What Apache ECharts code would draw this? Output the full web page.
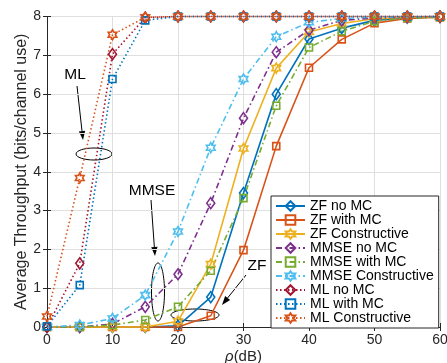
<!DOCTYPE html>
<html>
<head>
<meta charset="utf-8">
<script src="https://cdn.jsdelivr.net/npm/echarts@6/dist/echarts.min.js"></script>
<style>
  html, body { margin: 0; padding: 0; background: #fff; }
  #chart { width: 447px; height: 363px; }
</style>
</head>
<body>
<div id="chart"></div>
<script>
const snr = [0, 5, 10, 15, 20, 25, 30, 35, 40, 45, 50, 55, 60]
const zfNoMC = [0, 0, 0, 0, 0.03, 0.77, 3.45, 6.0, 7.42, 7.7, 7.9, 7.97, 7.99]
const zfWithMC = [0, 0, 0, 0, 0, 0.29, 1.98, 4.66, 6.68, 7.41, 7.83, 7.95, 7.98]
const zfConstructive = [0, 0, 0, 0, 0.15, 1.62, 4.6, 6.67, 7.6, 7.82, 7.94, 7.98, 7.99]
const mmseNoMC = [0, 0, 0.08, 0.52, 1.36, 3.19, 5.38, 7.08, 7.65, 7.9, 7.96, 7.98, 7.99]
const mmseWithMC = [0, 0, 0.05, 0.18, 0.52, 1.45, 3.32, 5.7, 7.2, 7.62, 7.88, 7.96, 7.98]
const mmseConstructive = [0, 0.05, 0.22, 0.82, 2.46, 4.62, 6.39, 7.48, 7.85, 7.95, 7.98, 7.99, 8]
const mlNoMC = [0, 1.64, 7.03, 7.97, 8, 8, 8, 8, 8, 8, 8, 8, 8]
const mlWithMC = [0.02, 1.08, 6.39, 7.9, 8, 8, 8, 8, 8, 8, 8, 8, 8]
const mlConstructive = [0.27, 3.84, 7.53, 7.98, 8, 8, 8, 8, 8, 8, 8, 8, 8]

const FONT = 'Liberation Sans, Arial, Helvetica, sans-serif'
const AX = '#262626'
const hexagram = 'path://M0,-100L28.9,-50L86.6,-50L57.7,0L86.6,50L28.9,50L0,100L-28.9,50L-86.6,50L-57.7,0L-86.6,-50L-28.9,-50Z'
const dashDot = [6, 3, 1.5, 3]
const dotted = [1.5, 2.5]

const mk = (name, ys, color, lineType, symbol) => {
  let size = 8
  if (symbol === 'diamond') size = [8, 11]
  if (symbol === 'rect') size = 7
  if (symbol === 'hex') size = 10
  return {
    name: name,
    type: 'line',
    data: snr.map((x, i) => [x, ys[i]]),
    symbol: symbol === 'hex' ? hexagram : symbol,
    symbolSize: size,
    symbolKeepAspect: true,
    showAllSymbol: true,
    clip: false,
    lineStyle: { color: color, width: 1.6, type: lineType },
    itemStyle: { color: 'rgba(255,255,255,0)', borderColor: color, borderWidth: 1.6 },
    emphasis: { disabled: true },
    animation: false
  }
}

// arrow from (x1,y1) to tip (x2,y2), pixel positions of annotations
const arrow = (x1, y1, x2, y2) => {
  const a = Math.atan2(y2 - y1, x2 - x1)
  const L = 9, W = 3.2
  const bx = x2 - L * Math.cos(a), by = y2 - L * Math.sin(a)
  const px = -Math.sin(a) * W, py = Math.cos(a) * W
  return [
    { type: 'line', shape: { x1: x1, y1: y1, x2: bx, y2: by }, style: { stroke: '#000', lineWidth: 1 } },
    { type: 'polygon', shape: { points: [[x2, y2], [bx + px, by + py], [bx - px, by - py]] }, style: { fill: '#000' } }
  ]
}
const ell = (cx, cy, rx, ry) => ({ type: 'ellipse', shape: { cx: cx, cy: cy, rx: rx, ry: ry }, style: { fill: 'none', stroke: '#000', lineWidth: 1 } })
const txt = (x, y, s) => ({ type: 'text', x: x, y: y, style: { text: s, font: '15.5px ' + FONT, fill: '#000', align: 'center', verticalAlign: 'middle' } })

const myChart = echarts.init(document.getElementById('chart'), null, { renderer: 'canvas' })
const option = {
  animation: false,
  textStyle: { fontFamily: FONT },
  grid: { left: 47, right: 7, top: 16.5, bottom: 36, containLabel: false, outerBoundsMode: 'none' },
  xAxis: [{
    type: 'value', min: 0, max: 60, interval: 10,
    name: '{i|ρ}(dB)', nameLocation: 'middle', nameGap: 22, nameMoveOverlap: false,
    nameTextStyle: { color: AX, fontSize: 15, rich: { i: { fontStyle: 'italic', fontSize: 15, color: AX } } },
    axisLine: { lineStyle: { color: AX, width: 1 } },
    axisTick: { inside: true, length: 4, lineStyle: { color: AX } },
    axisLabel: { color: AX, fontSize: 14, margin: 6 },
    splitLine: { show: true, lineStyle: { color: '#dfdfdf', width: 1 } }
  }, {
    type: 'value', min: 0, max: 60, interval: 10, position: 'top',
    axisLine: { show: true, lineStyle: { color: AX, width: 1 } },
    axisTick: { inside: true, length: 4, lineStyle: { color: AX } },
    axisLabel: { show: false }, splitLine: { show: false }
  }],
  yAxis: [{
    type: 'value', min: 0, max: 8, interval: 1,
    name: 'Average Throughput (bits/channel use)', nameLocation: 'middle', nameGap: 17, nameMoveOverlap: false,
    nameTextStyle: { color: AX, fontSize: 16 },
    axisLine: { show: true, lineStyle: { color: AX, width: 1 } },
    axisTick: { show: true, inside: true, length: 4, lineStyle: { color: AX } },
    axisLabel: { color: AX, fontSize: 14, margin: 6 },
    splitLine: { show: true, lineStyle: { color: '#dfdfdf', width: 1 } }
  }, {
    type: 'value', min: 0, max: 8, interval: 1, position: 'right',
    axisLine: { show: true, lineStyle: { color: AX, width: 1 } },
    axisTick: { show: true, inside: true, length: 4, lineStyle: { color: AX } },
    axisLabel: { show: false }, splitLine: { show: false }
  }],
  legend: {
    orient: 'vertical', left: 271, top: 196,
    padding: [3, 5, 3, 4], itemGap: 0, itemWidth: 29, itemHeight: 12,
    backgroundColor: '#fff', borderColor: AX, borderWidth: 1,
    textStyle: { fontSize: 14, color: '#000', lineHeight: 14, height: 14 }
  },
  series: [
    mk('ZF no MC', zfNoMC, '#0072BD', 'solid', 'diamond'),
    mk('ZF with MC', zfWithMC, '#D95319', 'solid', 'rect'),
    mk('ZF Constructive', zfConstructive, '#EDB120', 'solid', 'hex'),
    mk('MMSE no MC', mmseNoMC, '#7E2F8E', dashDot, 'diamond'),
    mk('MMSE with MC', mmseWithMC, '#77AC30', dashDot, 'rect'),
    mk('MMSE Constructive', mmseConstructive, '#4DBEEE', dashDot, 'hex'),
    mk('ML no MC', mlNoMC, '#A2142F', dotted, 'diamond'),
    mk('ML with MC', mlWithMC, '#0072BD', dotted, 'rect'),
    mk('ML Constructive', mlConstructive, '#D95319', dotted, 'hex')
  ],
  graphic: [
    txt(75, 75, 'ML'),
    ...arrow(77, 86, 83, 140),
    ell(94, 154, 18, 6),
    txt(152, 191, 'MMSE'),
    ...arrow(151, 200, 155, 256),
    ell(158, 292, 6.5, 29),
    txt(257, 266, 'ZF'),
    ...arrow(246, 275, 222, 305),
    ell(195, 315, 24, 6)
  ]
}
myChart.setOption(option)
</script>
</body>
</html>
